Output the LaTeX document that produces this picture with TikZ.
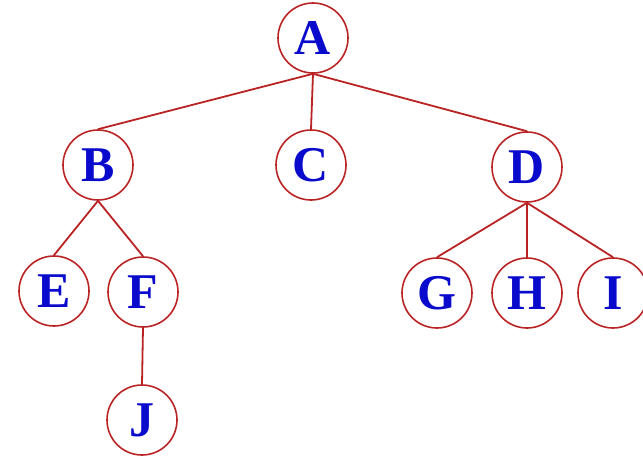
\documentclass[tikz,border=0pt]{standalone}
\usepackage{fontspec}
\setmainfont{Liberation Serif}
\begin{document}
\begin{tikzpicture}[x=1pt,y=-1pt,
  vertex/.style={circle,draw=treered,line width=1.6pt,minimum size=70pt,inner sep=0pt,
    text=letterblue,font=\fontsize{50}{50}\selectfont\bfseries},
  branch/.style={draw=treered,line width=1.8pt}]
\definecolor{treered}{RGB}{185,35,35}
\definecolor{letterblue}{RGB}{10,10,205}
\useasboundingbox (0,0) rectangle (643,456);
% tree nodes
\node[vertex] (A) at (313,38) {A};
\node[vertex] (B) at (98,165) {B};
\node[vertex] (C) at (311,165) {C};
\node[vertex] (D) at (527,167) {D};
\node[vertex] (E) at (54,291) {E};
\node[vertex] (F) at (143,292) {F};
\node[vertex] (G) at (437,293) {G};
\node[vertex] (H) at (527,293) {H};
\node[vertex] (I) at (613,293) {I};
\node[vertex] (J) at (142,420) {J};
% branches
\foreach \p/\c in {A/B,A/C,A/D,B/E,B/F,D/G,D/H,D/I,F/J}
  \draw[branch] (\p.south) -- (\c.north);
\end{tikzpicture}
\end{document}
